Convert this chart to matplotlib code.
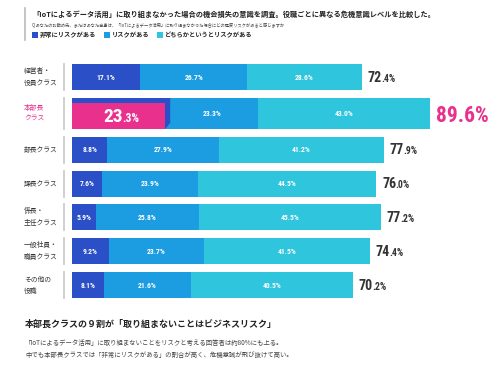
import matplotlib
matplotlib.use('Agg')
import matplotlib.pyplot as plt
from matplotlib.patches import Polygon
from matplotlib import font_manager

plt.rcParams['font.family'] = ['Noto Sans CJK JP', 'DejaVu Sans']
names = set(f.name for f in font_manager.fontManager.ttflist)
NUM_FONT = [n for n in ['Roboto Condensed', 'Liberation Sans Narrow', 'DejaVu Sans Condensed']
            if n in names] + ['Roboto']
NARROW = NUM_FONT[0] != 'Roboto'
k = 1.0 if NARROW else 0.8

# data
cats = ['経営者・\n役員クラス', '本部長\nクラス', '部長クラス', '課長クラス',
        '係長・\n主任クラス', '一般社員・\n職員クラス', 'その他の\n役職']
very = [17.1, 23.3, 8.8, 7.6, 5.9, 9.2, 8.1]
risk = [26.7, 23.3, 27.9, 23.9, 25.8, 23.7, 21.6]
some = [28.6, 43.0, 41.2, 44.5, 45.5, 41.5, 40.5]
totals = [72.4, 89.6, 77.9, 76.0, 77.2, 74.4, 70.2]
legend_labels = ['非常にリスクがある', 'リスクがある', 'どちらかというとリスクがある']

c_dark = '#2b4fc7'
c_mid = '#1c9de2'
c_cyan = '#2fc5dc'
c_pink = '#e8308c'
c_text = '#333333'

fig = plt.figure(figsize=(4.9, 3.66), dpi=100)
fig.patch.set_facecolor('white')
renderer = fig.canvas.get_renderer()

# layout axes in pixel units
px = fig.add_axes([0, 0, 1, 1])
px.set_xlim(0, 490)
px.set_ylim(366, 0)
px.axis('off')

# bar axes: x in percent, 4px per percent, bars start at x=72px
ax = fig.add_axes([0, 0, 1, 1])
ax.set_xlim(-72 / 4, (490 - 72) / 4)
ax.set_ylim(366, 0)
ax.axis('off')
ax.patch.set_alpha(0)


def two_part(x, y, big, small, fs_big, fs_small, color, ha='left'):
    # big digits + smaller ".x%" sharing one baseline
    t = ax.text(x, y, big, ha=ha, va='baseline', fontsize=fs_big, color=color,
                fontweight='bold', family=NUM_FONT)
    bb = t.get_window_extent(renderer)
    x1 = ax.transData.inverted().transform((bb.x1, bb.y0))[0]
    ax.text(x1 - 0.1, y, small, ha='left', va='baseline', fontsize=fs_small,
            color=color, fontweight='bold', family=NUM_FONT)


row_y = [77, 113.5, 150, 184, 217, 251, 285]
heights = [26, 31, 26, 26, 26, 26, 26]

for i in range(len(cats)):
    y = row_y[i]
    h = heights[i]
    ax.barh(y, very[i], height=h, left=0, color=c_dark, linewidth=0)
    ax.barh(y, risk[i], height=h, left=very[i], color=c_mid, linewidth=0)
    ax.barh(y, some[i], height=h, left=very[i] + risk[i], color=c_cyan, linewidth=0)

    # separator + row label
    px.plot([64, 64], [y - h / 2, y + h / 2], color='#cccccc', lw=1.3)
    col = c_pink if i == 1 else c_text
    px.text(24, y, cats[i], ha='left', va='center', fontsize=4.9,
            color=col, linespacing=1.55)

    whole, frac = f'{very[i]:.1f}'.split('.')
    if i == 1:
        # pop-out box for the highlighted segment
        d = 5 / 4
        poly = Polygon([(0, y + h / 2 - 26), (d, y - h / 2),
                        (very[i] + d, y - h / 2), (very[i] + d, y + h / 2 - 6),
                        (very[i], y + h / 2)],
                       closed=True, color=c_dark, lw=0)
        ax.add_patch(poly)
        ax.barh(y + 2.5, very[i], height=26, left=0, color=c_pink, linewidth=0)
        two_part(very[i] / 2 + 1.0, y + 8, whole, f'.{frac}%', 14 * k, 8.5 * k,
                 'white', ha='right')
    else:
        ax.text(very[i] / 2, y, f'{very[i]}%', ha='center', va='center',
                fontsize=5.5 * k, color='white', fontweight='bold', family=NUM_FONT)
    ax.text(very[i] + risk[i] / 2, y, f'{risk[i]}%', ha='center', va='center',
            fontsize=5.5 * k, color='white', fontweight='bold', family=NUM_FONT)
    ax.text(very[i] + risk[i] + some[i] / 2, y, f'{some[i]:.1f}%', ha='center',
            va='center', fontsize=5.5 * k, color='white', fontweight='bold',
            family=NUM_FONT)

    # total label
    whole, frac = f'{totals[i]:.1f}'.split('.')
    if i == 1:
        ax.text(totals[i] + 1.5, y + 8, f'{whole}.{frac}%', ha='left',
                va='baseline', fontsize=15.5 * k, color=c_pink, fontweight='bold',
                family=NUM_FONT)
    else:
        two_part(totals[i] + 1.5, y + 4.5, whole, f'.{frac}%', 10 * k, 7 * k,
                 c_text)

# header
px.plot([25, 25], [8, 40], color='#bbbbbb', lw=1.2)
px.text(32, 14, '「IoTによるデータ活用」に取り組まなかった場合の機会損失の意識を調査。役職ごとに異なる危機意識レベルを比較した。',
        ha='left', va='center', fontsize=5.2, fontweight='bold', color='#222222')
px.text(32, 24.5, 'Q.あなたのお勤め先、またはあなた自身は、「IoTによるデータ活用」に取り組まなかった場合にどの程度リスクがあると感じますか',
        ha='left', va='center', fontsize=3.1, color='#444444')
leg_x = [32, 104, 157]
for lx, lab, c in zip(leg_x, legend_labels, [c_dark, c_mid, c_cyan]):
    px.add_patch(plt.Rectangle((lx, 32), 6, 6, color=c, lw=0))
    px.text(lx + 7.5, 35, lab, ha='left', va='center', fontsize=4.5,
            fontweight='bold', color='#222222')

# footer
px.text(25, 324, '本部長クラスの９割が「取り組まないことはビジネスリスク」',
        ha='left', va='center', fontsize=6.5, fontweight='bold', color='#222222')
px.text(25, 343, '「IoTによるデータ活用」に取り組まないことをリスクと考える回答者は約80%にも上る。',
        ha='left', va='center', fontsize=4.6, color='#444444')
px.text(25, 355, '中でも本部長クラスでは「非常にリスクがある」の割合が高く、危機意識が飛び抜けて高い。',
        ha='left', va='center', fontsize=4.6, color='#444444')

fig.savefig('out.png', dpi=100, facecolor='white')
